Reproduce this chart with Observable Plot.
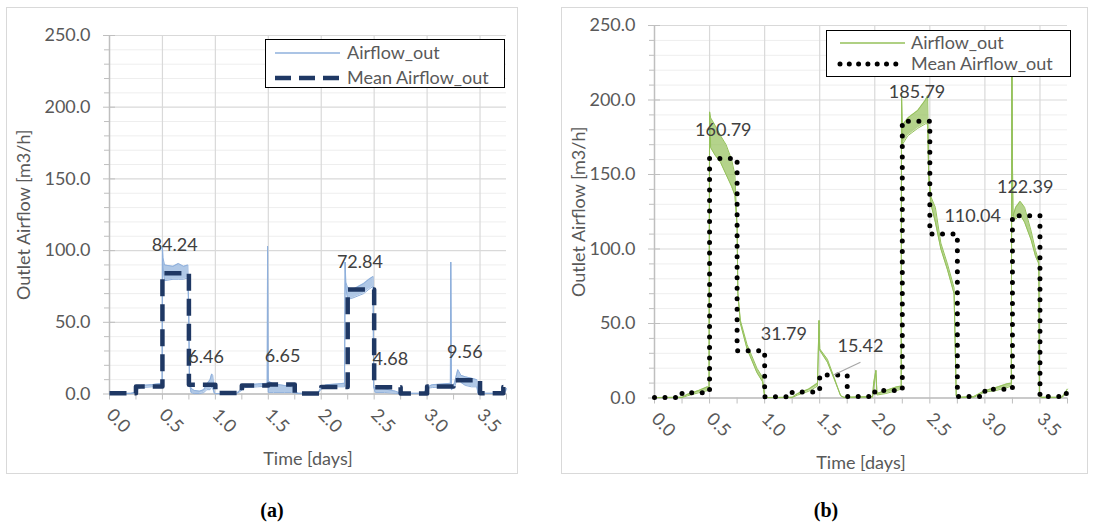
<!DOCTYPE html>
<html><head><meta charset="utf-8">
<script src="https://cdn.jsdelivr.net/npm/d3@7"></script>
<script src="https://cdn.jsdelivr.net/npm/@observablehq/plot@0.6"></script>
<style>
body{margin:0;background:#fff;}
#wrap{position:relative;width:1093px;height:524px;overflow:hidden;font-family:Lato,"Open Sans",sans-serif;}
.box{position:absolute;border:1px solid #d9d9d9;box-sizing:border-box;background:#fff;}
.legend{position:absolute;border:1.5px solid #000;background:#fff;box-sizing:border-box;font-size:18px;color:#595959;}
.legend svg{position:absolute;left:0;top:0;}
.legend span{position:absolute;white-space:nowrap;line-height:20px;}
.cap{position:absolute;font-family:"Liberation Serif","DejaVu Serif",serif;font-weight:bold;font-size:20px;color:#000;transform:translateX(-50%);}
</style></head><body><div id="wrap"></div>
<script>
// ---------- shared axis ticks ----------
const yMajor = [0, 50, 100, 150, 200, 250];
const yMinor = [10, 20, 30, 40, 60, 70, 80, 90, 110, 120, 130, 140, 160, 170, 180, 190, 210, 220, 230, 240];
const xLabelTicks = [0, 0.5, 1, 1.5, 2, 2.5, 3, 3.5];
const xGridTicks = [0.5, 1, 1.5, 2, 2.5, 3, 3.5];
const xQuarterTicks = [0, 0.25, 0.5, 0.75, 1, 1.25, 1.5, 1.75, 2, 2.25, 2.5, 2.75, 3, 3.25, 3.5, 3.75];
const seriesNames = ["Airflow_out", "Mean Airflow_out"];
const yTitle = "Outlet Airflow [m3/h]";
const xTitle = "Time [days]";

// ---------- panel (a) ----------
const aRawT  = [0.00,0.20,0.24,0.27,0.30,0.40,0.49,0.497,0.50,0.505,0.52,0.60,0.65,0.70,0.74,0.748,0.755,0.77,0.80,0.85,0.89,0.92,0.95,0.965,0.975,0.99,1.00,1.20,1.24,1.28,1.40,1.49,1.493,1.498,1.50,1.55,1.65,1.72,1.76,1.78,1.97,2.00,2.05,2.15,2.22,2.226,2.232,2.25,2.30,2.40,2.45,2.49,2.495,2.51,2.60,2.70,2.75,2.97,3.00,3.05,3.15,3.22,3.223,3.23,3.26,3.29,3.32,3.36,3.42,3.47,3.48,3.72,3.75];
const aRawLo = [0.3,0.3,0.8,3.5,4.5,5.0,5.5,6,103,88,79,80,80,80,81,60,8,1,0.3,0.3,1,3,3,5,4,0.5,0.3,0.3,2,4.5,5,5.5,103,10,1,1,1,1,0.5,0.3,0.3,3.5,4.5,5,5,92,74,66,67,70,73,75,5,1,1,0.5,0.3,0.3,4,4.5,5,5.5,92,3,5,12,8,6,5,5,0.5,0.3,3];
const aRawHi = [0.3,0.5,1.2,4.5,6.0,6.5,7.5,6,103,95,90,89,91,89,90,60,12,4,2.5,2,3,7,10,14,13,1,0.3,0.5,3,6,7,7.5,103,12,9,7,6,5,2,0.5,0.5,5,6.5,7,7.5,92,78,74,73,77,80,82,5,4.5,3.5,2,0.5,0.5,5,6.5,7,7.5,92,3,8,17,13,12,11,10,0.5,0.5,4];
const aMeanT = [0,0.25,0.5,0.75,1,1.25,1.5,1.75,2,2.25,2.5,2.75,3,3.25,3.5,3.72,3.75];
const aMeanV = [0.5,5.2,84.24,6.46,0.7,5.9,6.65,0.3,4.9,72.84,4.68,0.3,5.3,9.56,0.5,4.9,4.9];
const aLabelT = [0.625,0.875,1.625,2.375,2.625,3.375];
const aLabelV = [84.24,6.46,6.65,72.84,4.68,9.56];

// ---------- panel (b) ----------
const bRawT  = [0.00,0.25,0.30,0.40,0.48,0.495,0.50,0.51,0.55,0.60,0.65,0.70,0.73,0.75,0.757,0.78,0.84,0.93,0.98,1.00,1.02,1.25,1.30,1.40,1.48,1.494,1.50,1.57,1.63,1.69,1.72,1.98,1.99,2.01,2.02,2.10,2.20,2.24,2.243,2.25,2.30,2.39,2.46,2.48,2.49,2.51,2.55,2.60,2.66,2.72,2.74,2.76,2.90,3.00,3.10,3.20,3.24,3.245,3.25,3.255,3.28,3.32,3.36,3.42,3.46,3.49,3.495,3.52,3.70,3.75];
const bRawLo = [0.3,0.3,1.5,3.5,5,7,192,168,163,158,150,142,136,115,70,50,33,17,11,1,0.3,0.3,2,4.5,8,52,32,24,13,1.5,0.3,0.5,5,18.5,2,3,5,6,205,170,176,181,184,184,148,130,118,100,86,70,1,0.3,0.5,4,5,7,8,230,160,122,120,123,118,106,95,90,1,0.3,0.3,4];
const bRawHi = [0.3,0.5,2.5,5,7.5,7,192,188,183,176,170,160,150,115,70,52,36,20,14,2,0.3,0.5,3,6,10,52,33,26,14,1.5,0.5,1,10,18.5,3,5,7.5,8,205,183,188,193,200,203,152,135,128,104,90,74,2,0.5,1,5,7,9.5,10,230,160,122,128,132,128,112,99,92,1,0.5,0.5,6];
const bMeanT = [0,0.25,0.5,0.75,1,1.25,1.5,1.75,2,2.25,2.5,2.75,3,3.25,3.5,3.72,3.75];
const bMeanV = [0.3,3.5,160.79,31.79,0.8,4,15.42,1,5,185.79,110.04,1,5.8,122.39,1,3,3];
const bLabelT = [0.625,0.875,1.625,2.375,2.625,3.375];
const bLabelV = [160.79,31.79,15.42,185.79,110.04,122.39];
const bLeader = [{x1: 1.625, y1: 15.42, x2: 1.87, y2: 24}];

const wrap = document.getElementById("wrap");
const FS = 18;

function panel(o) {
  const raw = o.rawT.map((t, i) => ({t, lo: o.rawLo[i], hi: o.rawHi[i]}));
  const mean = o.meanT.map((t, i) => ({t, v: o.meanV[i]}));
  const labs = o.labT.map((t, i) => ({t, v: o.labV[i], s: o.labV[i].toFixed(2)}));
  const box = document.createElement("div");
  box.className = "box";
  Object.assign(box.style, {left: o.left + "px", top: o.top + "px", width: o.width + "px", height: o.height + "px"});
  wrap.appendChild(box);
  const marks = [
    Plot.gridY(yMinor, {stroke: "#eeeeee", strokeOpacity: 1}),
    Plot.gridY(yMajor, {stroke: "#d9d9d9", strokeOpacity: 1, strokeWidth: 1.2}),
    Plot.gridX(xGridTicks, {stroke: "#d9d9d9", strokeOpacity: 1, strokeWidth: 1.2}),
    Plot.ruleX([0], {stroke: "#bfbfbf", strokeWidth: 1.5}),
    Plot.ruleY([0], {stroke: "#bfbfbf", strokeWidth: 1.5}),
    Plot.axisY(yMajor, {tickSize: 12, dx: 6, tickFormat: () => "", stroke: "#bfbfbf", label: null}),
    Plot.axisY(yMinor, {tickSize: 5, tickFormat: () => "", stroke: "#bfbfbf", label: null}),
    Plot.axisY(yMajor, {tickSize: 0, tickPadding: 19, tickFormat: d => d.toFixed(1), fontSize: FS, fill: "#595959",
      label: yTitle, labelAnchor: "center", labelArrow: "none", labelOffset: o.yLabelOffset}),
    Plot.axisX(xQuarterTicks, {tickSize: 6, tickFormat: () => "", stroke: "#bfbfbf", label: null}),
    Plot.axisX(xLabelTicks, {tickSize: 0, tickRotate: 45, tickPadding: 18, tickFormat: d => d.toFixed(1), fontSize: FS, fill: "#595959",
      label: xTitle, labelAnchor: "center", labelArrow: "none", labelOffset: 71}),
    Plot.areaY(raw, {x: "t", y1: "lo", y2: "hi", fill: o.rawColor, fillOpacity: 0.7}),
    Plot.lineY(raw, {x: "t", y: "lo", stroke: o.rawColor, strokeWidth: 1}),
    Plot.lineY(raw, {x: "t", y: "hi", stroke: o.rawColor, strokeWidth: 1}),
    Plot.lineY(mean, {x: "t", y: "v", curve: "step-after", stroke: o.meanColor, strokeWidth: o.meanWidth,
      strokeDasharray: o.dash, strokeLinecap: o.cap}),
    ...(o.leader ? [Plot.link(o.leader, {x1: "x1", y1: "y1", x2: "x2", y2: "y2", stroke: "#a6a6a6", strokeWidth: 1.2})] : []),
    ...labs.map((d, i) => Plot.text([d], {x: "t", y: "v", text: "s", dx: o.labDx[i], dy: o.labDy[i], fontSize: FS, fill: "#404040"}))
  ];
  const svg = Plot.plot({
    width: o.width, height: o.height,
    marginLeft: o.mL, marginRight: o.mR, marginTop: o.mT, marginBottom: o.mB,
    x: {domain: [0, 3.75]}, y: {domain: [0, 250]},
    style: {fontFamily: "Lato, 'Open Sans', sans-serif", background: "transparent", overflow: "visible"},
    marks
  });
  svg.style.left = o.left + "px";
  svg.style.top = o.top + "px";
  svg.style.position = "absolute";
  wrap.appendChild(svg);

  // legend (page coordinates)
  const lg = document.createElement("div");
  lg.className = "legend";
  Object.assign(lg.style, {left: o.lg.left + "px", top: o.lg.top + "px", width: o.lg.w + "px", height: o.lg.h + "px"});
  const ns = "http://www.w3.org/2000/svg";
  const s = document.createElementNS(ns, "svg");
  s.setAttribute("width", o.lg.w); s.setAttribute("height", o.lg.h);
  lg.appendChild(s);
  seriesNames.forEach((name, i) => {
    const cy = o.lg.rows[i];
    const ln = document.createElementNS(ns, "line");
    ln.setAttribute("x1", o.lg.s1); ln.setAttribute("x2", o.lg.s2);
    ln.setAttribute("y1", cy); ln.setAttribute("y2", cy);
    if (i === 0) { ln.setAttribute("stroke", o.rawColor); ln.setAttribute("stroke-width", 1.5); }
    else { ln.setAttribute("stroke", o.meanColor); ln.setAttribute("stroke-width", o.meanWidth);
      ln.setAttribute("stroke-dasharray", o.lg.dash); ln.setAttribute("stroke-linecap", o.cap); }
    s.appendChild(ln);
    const sp = document.createElement("span");
    sp.textContent = name;
    sp.style.left = o.lg.tx + "px";
    sp.style.top = (cy - 11) + "px";
    lg.appendChild(sp);
  });
  wrap.appendChild(lg);

  const cap = document.createElement("div");
  cap.className = "cap";
  cap.textContent = o.caption;
  cap.style.left = o.capX + "px";
  cap.style.top = "499px";
  wrap.appendChild(cap);
}

panel({
  left: 6, top: 7, width: 512, height: 467, mL: 103, mR: 12, mT: 28, mB: 80.5,
  rawT: aRawT, rawLo: aRawLo, rawHi: aRawHi, meanT: aMeanT, meanV: aMeanV,
  labT: aLabelT, labV: aLabelV, labDx: [-1, 4, 1, -1, 3, -2], labDy: [-28, -28, -28, -27, -28, -28],
  rawColor: "#8fb0dc", meanColor: "#1f3864", meanWidth: 4.5, dash: "17,8", cap: "butt", yLabelOffset: 92,
  lg: {left: 265, top: 39, w: 240, h: 49, rows: [13, 38], s1: 9, s2: 74, tx: 81, dash: "16,8"},
  caption: "(a)", capX: 272
});
panel({
  left: 561, top: 7, width: 527, height: 467, mL: 93, mR: 21, mT: 18, mB: 76.5,
  rawT: bRawT, rawLo: bRawLo, rawHi: bRawHi, meanT: bMeanT, meanV: bMeanV,
  labT: bLabelT, labV: bLabelV, labDx: [0, 33, 27, 1, 29, -1], labDy: [-28, -16, -29, -29, -18, -28],
  leader: bLeader,
  rawColor: "#94c15a", meanColor: "#000000", meanWidth: 5, dash: "0,10.5", cap: "round", yLabelOffset: 82,
  lg: {left: 826, top: 30, w: 245, h: 47, rows: [12, 33], s1: 13, s2: 78, tx: 84, dash: "0,9.3"},
  caption: "(b)", capX: 826
});
</script></body></html>
